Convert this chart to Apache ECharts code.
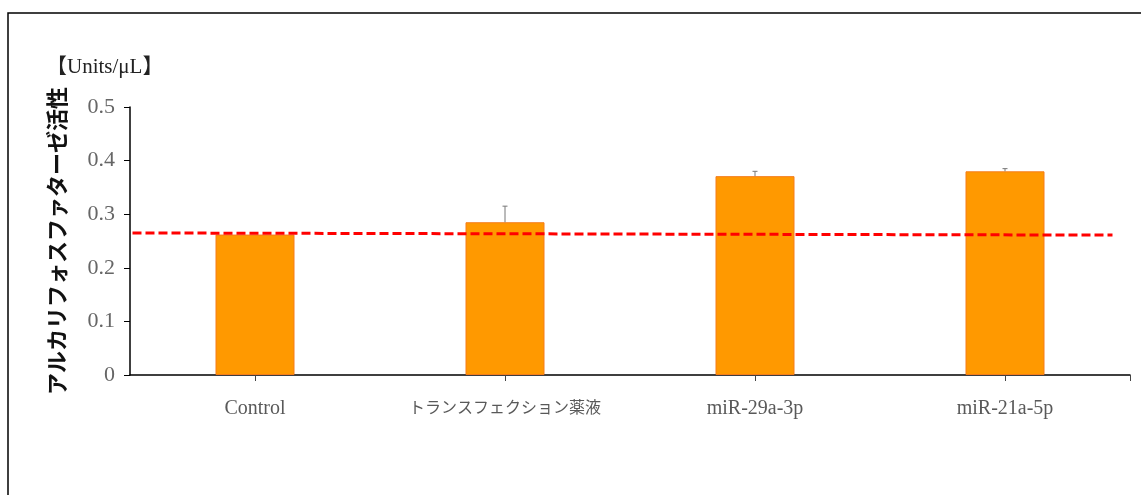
<!DOCTYPE html>
<html>
<head>
<meta charset="utf-8">
<script src="https://cdn.jsdelivr.net/npm/echarts@6/dist/echarts.min.js"></script>
<style>
html,body{margin:0;padding:0;background:#fff;}
#c{width:1141px;height:495px;}
</style>
</head>
<body>
<div id="c"></div>
<script>
const categories = ['Control', 'トランスフェクション薬液', 'miR-29a-3p', 'miR-21a-5p'];
const values = [0.262, 0.285, 0.371, 0.380];
const errors = [0, 0.030, 0.009, 0.005];
const refLine = [[0.01, 0.265], [3.93, 0.261]];
const yTicks = [0, 0.1, 0.2, 0.3, 0.4, 0.5];

const chart = echarts.init(document.getElementById('c'), null, {renderer: 'canvas'});
const errData = values.map((v, i) => [i, v, v + errors[i]]);

chart.setOption({
  animation: false,
  backgroundColor: '#fff',
  graphic: [
    {type: 'rect', shape: {x: 8, y: 13, width: 1300, height: 600},
     style: {fill: 'none', stroke: '#000', lineWidth: 1.5}, silent: true},
    {type: 'text', left: 46, top: 57,
     style: {text: '【Units/μL】', font: '21px "Liberation Serif", "Noto Sans CJK JP"', fill: '#222'}}
  ],
  grid: {left: 130, right: 11, top: 107, bottom: 120, containLabel: false},
  xAxis: [
    {type: 'category', data: categories,
     axisLine: {lineStyle: {color: '#000', width: 1.5}},
     axisTick: {show: true, alignWithLabel: true, interval: 0, length: 6, lineStyle: {color: '#444', width: 1}},
     axisLabel: {interval: 0, margin: 24, color: '#595959', fontSize: 20,
       fontFamily: '"Liberation Serif", "Noto Sans CJK JP"',
       formatter: function (v) { return /[^\x00-\x7F]/.test(v) ? '{j|' + v + '}' : v; },
       rich: {j: {fontFamily: '"Noto Sans CJK JP"', fontSize: 16, color: '#595959'}}}},
    {type: 'value', min: 0, max: 4, position: 'bottom',
     axisLine: {show: false}, splitLine: {show: false}, axisLabel: {show: false},
     axisTick: {show: true, customValues: [4], length: 6, lineStyle: {color: '#444'}}}
  ],
  yAxis: {
    type: 'value', min: 0, max: 0.5, interval: 0.1,
    name: 'アルカリフォスファターゼ活性', nameLocation: 'middle', nameGap: 62,
    nameRotate: 90,
    nameTextStyle: {fontFamily: '"Noto Sans CJK JP"', fontSize: 22, fontWeight: 'bold', color: '#111'},
    axisLine: {show: true, lineStyle: {color: '#000', width: 1.5}},
    axisTick: {show: true, length: 6, lineStyle: {color: '#000'}},
    splitLine: {show: false},
    axisLabel: {margin: 15, color: '#666', fontSize: 22, fontFamily: '"Liberation Serif"',
      formatter: function (v) { return String(Math.round(v * 10) / 10); }}
  },
  series: [
    {type: 'bar', data: values, barWidth: '31.6%',
     itemStyle: {color: '#FF9900', borderColor: '#F57C1A', borderWidth: 1}},
    {type: 'custom', data: errData, z: 5,
     renderItem: function (params, api) {
       const x = api.coord([api.value(0), api.value(1)])[0];
       const y1 = api.coord([api.value(0), api.value(1)])[1];
       const y2 = api.coord([api.value(0), api.value(2)])[1];
       if (Math.abs(y1 - y2) < 0.5) return null;
       return {type: 'group', children: [
         {type: 'line', shape: {x1: x, y1: y1, x2: x, y2: y2}, style: {stroke: '#777', lineWidth: 1}},
         {type: 'line', shape: {x1: x - 2.5, y1: y2, x2: x + 2.5, y2: y2}, style: {stroke: '#777', lineWidth: 1}}
       ]};
     }},
    {type: 'line', xAxisIndex: 1, data: refLine, symbol: 'none', z: 10,
     lineStyle: {color: '#FF0000', width: 3, type: [9, 4]}}
  ]
});
</script>
</body>
</html>
